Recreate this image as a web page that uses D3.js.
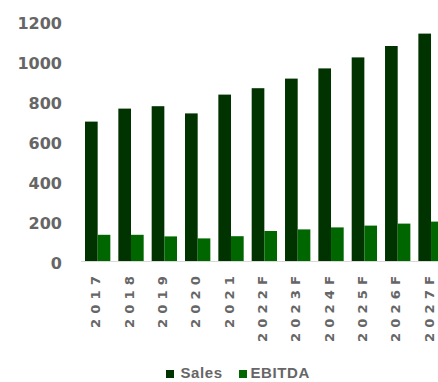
<!DOCTYPE html>
<html>
<head>
<meta charset="utf-8">
<script src="https://cdn.jsdelivr.net/npm/d3@7"></script>
<style>
  html, body { margin: 0; padding: 0; background: #fff; }
  svg { display: block; }
</style>
</head>
<body>
<svg id="chart" width="438" height="382"></svg>
<script>
// Yearly figures, actuals then forecasts
const years = ["2017", "2018", "2019", "2020", "2021", "2022F", "2023F", "2024F", "2025F", "2026F", "2027F"];
const sales = [697, 762, 774, 738, 832, 864, 912, 963, 1018, 1075, 1137];
const ebitda = [131, 131, 123, 113, 124, 150, 158, 168, 177, 187, 197];
const seriesNames = ["Sales", "EBITDA"];
const seriesColors = ["#013300", "#006600"];
const yTicks = [0, 200, 400, 600, 800, 1000, 1200];

const svg = d3.select("#chart");
const textColor = "#666666";

const x = d3.scaleBand()
  .domain(years)
  .range([81, 447.7])
  .paddingInner(0.24)
  .paddingOuter(0.12);

const xSeries = d3.scaleBand()
  .domain(seriesNames)
  .range([0, x.bandwidth()]);

const y = d3.scaleLinear()
  .domain([0, 1200])
  .range([261, 21]);

const color = d3.scaleOrdinal().domain(seriesNames).range(seriesColors);

// Bars
const rows = years.map((yr, i) => ({ year: yr, values: [
  { key: "Sales", value: sales[i] },
  { key: "EBITDA", value: ebitda[i] }
]}));

const groups = svg.append("g")
  .selectAll("g")
  .data(rows)
  .join("g")
  .attr("transform", d => `translate(${x(d.year)},0)`);

groups.selectAll("rect")
  .data(d => d.values)
  .join("rect")
  .attr("x", d => xSeries(d.key))
  .attr("y", d => y(d.value))
  .attr("width", xSeries.bandwidth())
  .attr("height", d => y(0) - y(d.value))
  .attr("fill", d => color(d.key));

// Baseline
svg.append("line")
  .attr("x1", 81).attr("x2", 438)
  .attr("y1", y(0) + 0.5).attr("y2", y(0) + 0.5)
  .attr("stroke", "#d9d9d9")
  .attr("stroke-width", 1.2);

// Value axis labels
const yAxis = d3.axisLeft(y).tickValues(yTicks).tickFormat(d3.format("d")).tickSize(0).tickPadding(0);
const yG = svg.append("g")
  .attr("transform", "translate(62,0)")
  .call(yAxis);
yG.select(".domain").remove();
yG.selectAll("text")
  .attr("fill", textColor)
  .attr("font-family", "DejaVu Sans")
  .attr("font-weight", "bold")
  .attr("font-size", 16)
  .attr("dy", "0.45em");

// Year labels, rotated
const xAxis = d3.axisBottom(x).tickSize(0).tickPadding(0);
const xG = svg.append("g")
  .attr("transform", "translate(0,276)")
  .call(xAxis);
xG.select(".domain").remove();
xG.selectAll("text")
  .attr("fill", textColor)
  .attr("font-family", "DejaVu Sans")
  .attr("font-weight", "bold")
  .attr("font-size", 12)
  .attr("letter-spacing", "4.6px")
  .attr("text-anchor", "end")
  .attr("dy", null)
  .attr("y", 0)
  .attr("x", 0)
  .attr("transform", "translate(-2,0) rotate(-90) scale(1.1,1) translate(4.6,4.5)");

// Legend
const legend = svg.append("g").attr("transform", "translate(0,378)");
const legendItems = [
  { key: "Sales", sx: 166, tx: 180.5 },
  { key: "EBITDA", sx: 239, tx: 250.5 }
];
legendItems.forEach(item => {
  legend.append("rect")
    .attr("x", item.sx).attr("y", -8)
    .attr("width", 8).attr("height", 8)
    .attr("fill", color(item.key));
  legend.append("text")
    .attr("x", item.tx).attr("y", 0)
    .attr("fill", textColor)
    .attr("font-family", "Liberation Sans, Arial, sans-serif")
    .attr("font-weight", "bold")
    .attr("font-size", 15)
    .attr("letter-spacing", "0.6px")
    .text(item.key);
});
</script>
</body>
</html>
